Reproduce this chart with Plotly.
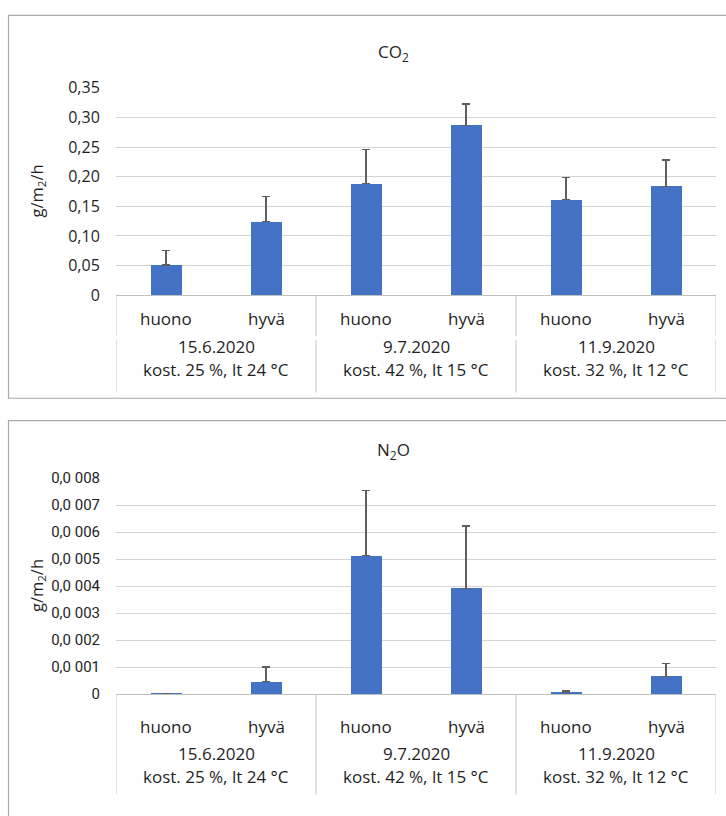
import plotly.graph_objects as go

# --- data -------------------------------------------------------------
dates = ["15.6.2020", "9.7.2020", "11.9.2020"]
conditions = ["kost. 25 %, lt 24 °C", "kost. 42 %, lt 15 °C", "kost. 32 %, lt 12 °C"]
soil_class = ["huono", "hyvä"]

co2_mean = [0.051, 0.124, 0.188, 0.287, 0.161, 0.184]
co2_err = [0.024, 0.042, 0.058, 0.036, 0.038, 0.044]
co2_ticks = [0, 0.05, 0.10, 0.15, 0.20, 0.25, 0.30, 0.35]
co2_ticktext = ["0", "0,05", "0,10", "0,15", "0,20", "0,25", "0,30", "0,35"]

n2o_mean = [0.00002, 0.00046, 0.00513, 0.00392, 0.00007, 0.00065]
n2o_err = [0.00001, 0.00054, 0.00240, 0.00230, 0.00004, 0.00049]
n2o_ticks = [0, 0.001, 0.002, 0.003, 0.004, 0.005, 0.006, 0.007, 0.008]
n2o_ticktext = ["0", "0,0 001", "0,0 002", "0,0 003", "0,0 004",
                "0,0 005", "0,0 006", "0,0 007", "0,0 008"]

# --- page geometry (pixels) -------------------------------------------
W, H = 726, 816
FONT = "Open Sans"
TXT = "#1f1f1f"
BAR = "#4472C4"
GRID = "#d4d4d4"
LINE = "#c0c0c0"


def py(p):
    return 1 - p / H


def px(p):
    return p / W


def label(text, x, y, xref="paper", size=17, angle=0):
    return dict(text=text, xref=xref, yref="paper", x=x, y=y,
                xanchor="center", yanchor="middle", showarrow=False,
                textangle=angle, font=dict(family=FONT, size=size, color=TXT))


positions = list(range(len(co2_mean)))
inner_labels = [soil_class[i % 2] for i in positions]

panels = [
    dict(name="CO<sub>2</sub>", mean=co2_mean, err=co2_err, ticks=co2_ticks,
         ticktext=co2_ticktext, rng=[0, 0.35], top=79, bottom=292,
         title_y=43, inner_y=316, date_y=345, cond_y=368,
         vlines=[(292, 334), (338, 392)], box=(4.5, 398),
         tickfont=dict(family=FONT, size=16, color=TXT),
         xa="x", ya="y"),
    dict(name="N<sub>2</sub>O", mean=n2o_mean, err=n2o_err, ticks=n2o_ticks,
         ticktext=n2o_ticktext, rng=[0, 0.008], top=480, bottom=702,
         title_y=452, inner_y=735, date_y=763, cond_y=787,
         vlines=[(702, 805)], box=(421, 830),
         tickfont=dict(family="Roboto", size=15, color=TXT),
         xa="x2", ya="y2"),
]

fig = go.Figure()
shapes = []
annotations = []

for i, p in enumerate(panels):
    fig.add_trace(go.Bar(
        x=positions, y=p["mean"], width=0.31,
        marker=dict(color=BAR, line=dict(width=0)),
        error_y=dict(type="data", symmetric=False, array=p["err"],
                     arrayminus=[0] * len(p["err"]),
                     color="#5f5f5f", thickness=1.3, width=4),
        xaxis=p["xa"], yaxis=p["ya"], showlegend=False,
    ))

    sfx = "" if i == 0 else "2"
    fig.update_layout(**{
        "xaxis" + sfx: dict(domain=[px(116), px(716)], range=[-0.5, 5.5],
                            showticklabels=False, showgrid=False, zeroline=False,
                            showline=True, linecolor=LINE, linewidth=1,
                            anchor="y" + sfx, fixedrange=True),
        "yaxis" + sfx: dict(domain=[py(p["bottom"]), py(p["top"])], range=p["rng"],
                            tickvals=p["ticks"], ticktext=p["ticktext"],
                            tickfont=p["tickfont"],
                            ticks="outside", ticklen=12, tickcolor="rgba(0,0,0,0)",
                            showgrid=True, gridcolor=GRID, gridwidth=1,
                            zeroline=False, showline=False,
                            anchor="x" + sfx, fixedrange=True),
    })

    # panel frame
    shapes.append(dict(type="rect", xref="paper", yref="paper",
                       x0=px(8.5), x1=1.02, y0=py(p["box"][1]), y1=py(p["box"][0]),
                       line=dict(color="#a8a8a8", width=1.2), layer="below"))

    # category group dividers
    for xv in [-0.5, 1.5, 3.5, 5.5]:
        for (a, b) in p["vlines"]:
            shapes.append(dict(type="line", xref=p["xa"], yref="paper",
                               x0=xv, x1=xv, y0=py(a), y1=py(b),
                               line=dict(color=LINE, width=1)))

    # chart title and y-axis title
    annotations.append(label(p["name"], px(393), py(p["title_y"])))
    annotations.append(label("g/m<sub>2</sub>/h", px(37),
                             py((p["top"] + p["bottom"]) / 2), size=16.5, angle=-90))
    # inner category labels
    for xv, lab in zip(positions, inner_labels):
        annotations.append(label(lab, xv, py(p["inner_y"]), xref=p["xa"]))
    # outer group labels
    for g, (d, c) in enumerate(zip(dates, conditions)):
        xc = 2 * g + 0.5
        annotations.append(label(d, xc, py(p["date_y"]), xref=p["xa"]))
        annotations.append(label(c, xc, py(p["cond_y"]), xref=p["xa"]))

fig.update_layout(
    width=W, height=H, margin=dict(l=0, r=0, t=0, b=0),
    paper_bgcolor="white", plot_bgcolor="white",
    shapes=shapes, annotations=annotations, bargap=0,
    font=dict(family=FONT, color=TXT),
)

fig.write_html("out.html")
